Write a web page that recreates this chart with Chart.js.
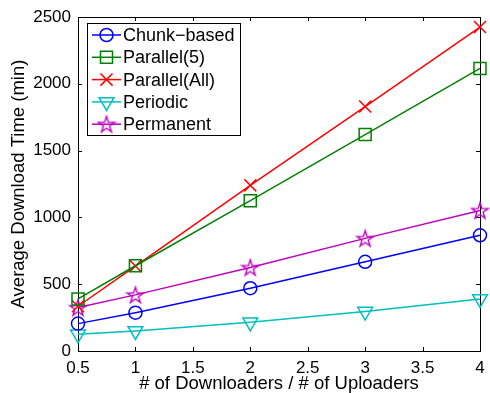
<!DOCTYPE html>
<html>
<head>
<meta charset="utf-8">
<script src="https://cdn.jsdelivr.net/npm/chart.js@4.4.1/dist/chart.umd.min.js"></script>
<style>
html,body{margin:0;padding:0;background:#fff;}
#wrap{width:490px;height:393px;position:relative;}
</style>
</head>
<body>
<div id="wrap"><canvas id="c" width="490" height="393"></canvas></div>
<script>
const xValues = [0.5, 1, 2, 3, 4];
const seriesNames = ['Chunk\u2212based', 'Parallel(5)', 'Parallel(All)', 'Periodic', 'Permanent'];
const chunkBased = [205, 287, 470, 668, 866];
const parallel5 = [390, 638, 1125, 1620, 2115];
const parallelAll = [335, 636, 1240, 1830, 2425];
const periodic = [125, 150, 215, 295, 390];
const permanent = [325, 420, 625, 843, 1052];
const xTicks = [0.5, 1, 1.5, 2, 2.5, 3, 3.5, 4];
const yTicks = [0, 500, 1000, 1500, 2000, 2500];
const xTitle = '# of Downloaders / # of Uploaders';
const yTitle = 'Average Download Time (min)';

const FONT = "'Liberation Sans', Arial, Helvetica, sans-serif";
const colors = ['#0000ff', '#008000', '#ff0000', '#00bfbf', '#bf00bf'];

function makeStar(color) {
  const c = document.createElement('canvas');
  c.width = 20; c.height = 20;
  const g = c.getContext('2d');
  g.strokeStyle = color; g.lineWidth = 1.4;
  g.beginPath();
  const R = 8.5, r = R * 0.382;
  for (let i = 0; i < 10; i++) {
    const a = -Math.PI / 2 + i * Math.PI / 5;
    const rr = i % 2 === 0 ? R : r;
    const px = 10 + rr * Math.cos(a), py = 10.8 + rr * Math.sin(a);
    if (i === 0) g.moveTo(px, py); else g.lineTo(px, py);
  }
  g.closePath(); g.stroke();
  return c;
}
const starImg = makeStar(colors[4]);

const allSeries = [chunkBased, parallel5, parallelAll, periodic, permanent];
const styles = [
  {pointStyle: 'circle', radius: 6.5, rotation: 0},
  {pointStyle: 'rect', radius: 8.5, rotation: 0},
  {pointStyle: 'crossRot', radius: 8.5, rotation: 0},
  {pointStyle: 'triangle', radius: 8.5, rotation: 180},
  {pointStyle: starImg, radius: 8, rotation: 0}
];

const datasets = allSeries.map((s, i) => ({
  label: seriesNames[i],
  data: xValues.map((x, j) => ({x: x, y: s[j]})),
  borderColor: colors[i],
  backgroundColor: 'rgba(0,0,0,0)',
  borderWidth: 1.5,
  pointStyle: styles[i].pointStyle,
  pointRadius: styles[i].radius,
  pointHoverRadius: styles[i].radius,
  pointRotation: styles[i].rotation,
  pointBorderColor: colors[i],
  pointBackgroundColor: 'rgba(0,0,0,0)',
  pointBorderWidth: 1.5,
  tension: 0,
  clip: false
}));

const boxPlugin = {
  id: 'boxPlugin',
  beforeDatasetsDraw(chart) {
    const {ctx, chartArea: a, scales: {x, y}} = chart;
    ctx.save();
    ctx.strokeStyle = '#000';
    ctx.lineWidth = 1;
    ctx.strokeRect(Math.round(a.left) + 0.5, Math.round(a.top) + 0.5, Math.round(a.right - a.left), Math.round(a.bottom - a.top));
    const L = 4;
    ctx.beginPath();
    xTicks.forEach(v => {
      const px = Math.round(x.getPixelForValue(v)) + 0.5;
      ctx.moveTo(px, a.bottom); ctx.lineTo(px, a.bottom - L);
      ctx.moveTo(px, a.top); ctx.lineTo(px, a.top + L);
    });
    yTicks.forEach(v => {
      const py = Math.round(y.getPixelForValue(v)) + 0.5;
      ctx.moveTo(a.left, py); ctx.lineTo(a.left + L, py);
      ctx.moveTo(a.right, py); ctx.lineTo(a.right - L, py);
    });
    ctx.stroke();
    ctx.restore();
  },
  afterDraw(chart) {
    const {ctx} = chart;
    const bx = 87.5, by = 23.5, bw = 153, bh = 112;
    ctx.save();
    ctx.fillStyle = '#fff';
    ctx.fillRect(bx, by, bw, bh);
    ctx.strokeStyle = '#000';
    ctx.lineWidth = 1;
    ctx.strokeRect(bx, by, bw, bh);
    ctx.font = '18px ' + FONT;
    ctx.textBaseline = 'middle';
    ctx.textAlign = 'left';
    chart.data.datasets.forEach((ds, i) => {
      const cy = 35 + i * 22.3;
      ctx.strokeStyle = ds.borderColor;
      ctx.lineWidth = 1.5;
      ctx.beginPath();
      ctx.moveTo(92, cy); ctx.lineTo(121, cy);
      ctx.stroke();
      ctx.fillStyle = 'rgba(0,0,0,0)';
      Chart.helpers.drawPoint(ctx, {
        pointStyle: ds.pointStyle, rotation: ds.pointRotation,
        radius: ds.pointRadius, borderWidth: 1.5
      }, 106.5, cy);
      ctx.fillStyle = '#000';
      ctx.fillText(ds.label, 123, cy + 1);
    });
    ctx.restore();
  }
};

new Chart(document.getElementById('c'), {
  type: 'line',
  data: {datasets: datasets},
  options: {
    responsive: false,
    animation: false,
    layout: {padding: {left: 0, right: 6, top: 17, bottom: 0}},
    plugins: {legend: {display: false}, tooltip: {enabled: false}},
    scales: {
      x: {
        type: 'linear', min: 0.5, max: 4,
        afterBuildTicks(s) { s.ticks = xTicks.map(v => ({value: v})); },
        afterFit(s) { s.height = 42; s.paddingLeft = 0; s.paddingRight = 0; },
        grid: {display: false, drawTicks: false},
        border: {display: false},
        ticks: {color: '#000', font: {family: FONT, size: 17}, padding: 7, maxRotation: 0, autoSkip: false,
          callback: v => String(v)},
        title: {display: true, text: xTitle, color: '#000', font: {family: FONT, size: 18.5}, padding: {top: 0, bottom: -2}}
      },
      y: {
        type: 'linear', min: 0, max: 2500,
        afterBuildTicks(s) { s.ticks = yTicks.map(v => ({value: v})); },
        afterFit(s) { s.width = 78; s.paddingTop = 0; s.paddingBottom = 0; },
        grid: {display: false, drawTicks: false},
        border: {display: false},
        ticks: {color: '#000', font: {family: FONT, size: 17}, padding: 7, autoSkip: false,
          callback: v => String(v)},
        title: {display: true, text: yTitle, color: '#000', font: {family: FONT, size: 18.5}, padding: {top: 8, bottom: 0}}
      }
    }
  },
  plugins: [boxPlugin]
});
</script>
</body>
</html>
